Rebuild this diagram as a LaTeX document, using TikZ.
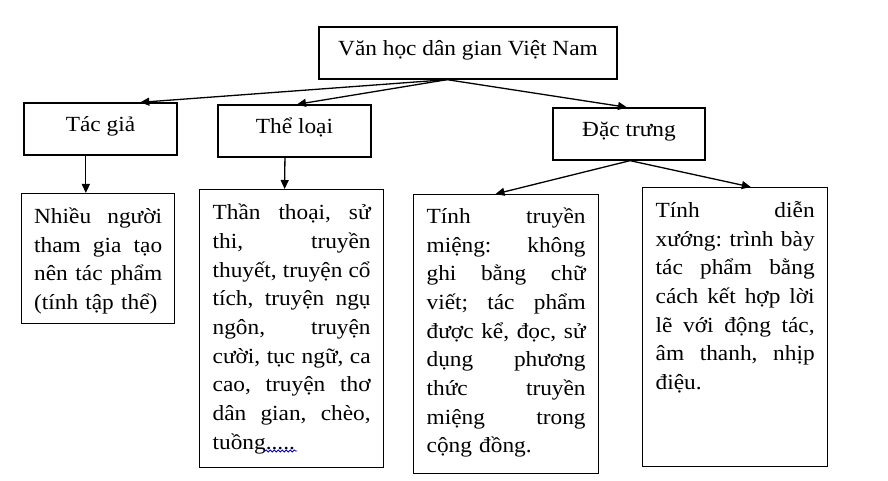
\documentclass[tikz,border=0pt]{standalone}
\usepackage{fontspec}
\setmainfont{Liberation Serif}[FakeStretch=1.08]
\usetikzlibrary{arrows.meta,calc,decorations.pathmorphing}
\frenchspacing
\begin{document}
\begin{tikzpicture}[x=1pt,y=-1pt,
  box/.style={draw, line width=1.3pt, inner sep=0pt, font=\fontsize{21.6}{28.7}\selectfont},
  hbox/.style={box, minimum height=52pt, text height=15pt, text depth=10pt},
  tbox/.style={box, anchor=north west, inner xsep=13pt},
  arr/.style={line width=1.3pt, -{Triangle[length=9pt,width=8pt]}},
]
\useasboundingbox (0,0) rectangle (888,481);
\fill[white] (0,0) rectangle (888,481);
\def\jw{150pt}
\newcommand{\jline}[1]{{\spaceskip=0pt\xspaceskip=0pt\makebox[\jw][s]{#1}}}
% top level
\node[hbox, minimum width=298pt, text depth=9pt] (root) at (468,53) {Văn học dân gian Việt Nam};
\node[hbox, minimum width=153pt] (tg) at (100.5,129) {Tác giả};
\node[hbox, minimum width=153pt] (tl) at (294.5,131) {Thể loại};
\node[hbox, minimum width=152pt] (dt) at (629,134) {Đặc trưng};
% lower boxes
\node[tbox, text width=128pt, inner xsep=12.5pt, text height=29.7pt, text depth=100.3pt] (nh) at (21,193)
 {\def\jw{128pt}\jline{Nhiều người}\\\jline{tham gia tạo}\\\jline{nên tác phẩm}\\(tính tập thể)};
\node[tbox, text width=158pt, text height=30pt, text depth=248pt] (tt) at (199,189)
 {\def\jw{158pt}\jline{Thần thoại, sử}\\\jline{thi, truyền}\\\jline{thuyết, truyện cổ}\\\jline{tích, truyện ngụ}\\\jline{ngôn, truyện}\\\jline{cười, tục ngữ, ca}\\\jline{cao, truyện thơ}\\\jline{dân gian, chèo,}\\tuồng.....};
\node[tbox, text width=159pt, text height=28.7pt, text depth=250.3pt] (tm) at (413,194)
 {\def\jw{159pt}\jline{Tính truyền}\\\jline{miệng: không}\\\jline{ghi bằng chữ}\\\jline{viết; tác phẩm}\\\jline{được kể, đọc, sử}\\\jline{dụng phương}\\\jline{thức truyền}\\\jline{miệng trong}\\cộng đồng.};
\node[tbox, text width=159pt, text height=29.7pt, text depth=249.3pt] (dx) at (642,187)
 {\def\jw{159pt}\jline{Tính diễn}\\\jline{xướng: trình bày}\\\jline{tác phẩm bằng}\\\jline{cách kết hợp lời}\\\jline{lẽ với động tác,}\\\jline{âm thanh, nhịp}\\điệu.};
% connectors
\coordinate (o) at ($(root.south west)!0.43!(root.south east)$);
\draw[arr] (o) -- ($(tg.north west)!0.758!(tg.north east)$);
\draw[arr] (o) -- ($(tl.north west)!0.516!(tl.north east)$);
\draw[arr] (o) -- ($(dt.north west)!0.487!(dt.north east)$);
\coordinate (a1) at ($(tg.south west)!0.405!(tg.south east)$);
\draw[arr] (a1) -- (a1 |- nh.north);
\draw[arr] ($(tl.south west)!0.438!(tl.south east)$) -- ($(tt.north west)!0.462!(tt.north east)$);
\coordinate (d0) at ($(dt.south west)!0.507!(dt.south east)$);
\draw[arr] (d0) -- ($(tm.north west)!0.443!(tm.north east)$);
\draw[arr] (d0) -- ($(dx.north west)!0.584!(dx.north east)$);
% spell-check squiggle
\draw[blue!85!black, line width=0.8pt, decorate, decoration={snake, amplitude=1.1pt, segment length=4pt}] (265,451) -- (297,451);
\end{tikzpicture}
\end{document}
